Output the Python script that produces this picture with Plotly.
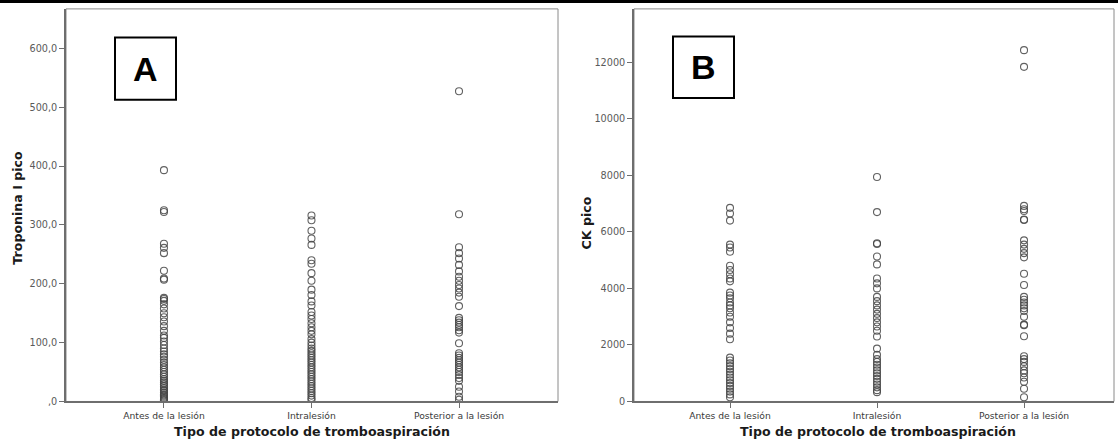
import plotly.graph_objects as go

# Categories on the x axis of both panels
categorias = ["Antes de la lesión", "Intralesión", "Posterior a la lesión"]

# Panel A: Troponina I pico per protocol group
trop_antes = [393, 325, 322, 268, 261, 252, 222, 209, 207, 176, 174, 171, 165, 158, 150,
              143, 136, 128, 120, 112, 108, 102, 96, 90, 85, 80, 76, 71, 66, 62, 58, 54,
              50, 46, 42, 38, 35, 32, 29, 26, 23, 20, 18, 15, 12, 10, 8, 6, 4, 2]
trop_intra = [316, 308, 290, 277, 266, 240, 234, 218, 205, 190, 181, 170, 163, 152, 146,
              140, 133, 126, 120, 114, 106, 100, 95, 90, 86, 82, 78, 74, 70, 66, 62, 58,
              54, 50, 46, 42, 38, 34, 30, 26, 22, 18, 14, 10, 6, 3]
trop_post = [527, 318, 262, 252, 243, 232, 221, 212, 205, 198, 192, 185, 178, 162, 142,
             138, 134, 130, 126, 121, 117, 99, 82, 78, 74, 70, 66, 62, 58, 54, 50, 45,
             40, 35, 25, 17, 8, 3]

# Panel B: CK pico per protocol group
ck_antes = [6850, 6650, 6400, 5550, 5450, 5300, 4800, 4650, 4500, 4350, 4250, 3850,
            3750, 3650, 3500, 3400, 3300, 3150, 3000, 2800, 2600, 2400, 2200, 1550,
            1450, 1350, 1250, 1150, 1050, 950, 850, 750, 650, 550, 450, 350, 250, 150]
ck_intra = [7940, 6700, 5600, 5570, 5130, 4850, 4350, 4180, 4000, 3700, 3550, 3400,
            3250, 3100, 2950, 2800, 2650, 2500, 2300, 1870, 1650, 1500, 1400, 1300,
            1200, 1100, 1000, 900, 800, 700, 600, 500, 400, 330]
ck_post = [12430, 11840, 6920, 6800, 6740, 6440, 6420, 5700, 5550, 5400, 5250, 5100,
           4520, 4120, 3700, 3600, 3500, 3400, 3300, 3200, 3000, 2720, 2700, 2310,
           1600, 1500, 1400, 1250, 1100, 1000, 850, 700, 450, 150]

trop_ticks = [0, 100, 200, 300, 400, 500, 600]
ck_ticks = [0, 2000, 4000, 6000, 8000, 10000, 12000]

eje_x_titulo = "Tipo de protocolo de tromboaspiración"
trop_titulo = "Troponina I pico"
ck_titulo = "CK pico"


def etiqueta_coma(v):
    s = f"{v:.1f}".replace(".", ",")
    return s[1:] if s.startswith("0,") else s


W, H = 1118, 448


def px_x(p):
    return p / W


def px_y(p):
    return 1 - p / H


fig = go.Figure()

marker = dict(symbol="circle-open", size=7, color="rgba(70,70,70,0.85)",
              line=dict(width=1.1, color="rgba(70,70,70,0.85)"))

for xa, ya, groups in [("x", "y", [trop_antes, trop_intra, trop_post]),
                       ("x2", "y2", [ck_antes, ck_intra, ck_post])]:
    for cat, vals in zip(categorias, groups):
        fig.add_trace(go.Scatter(x=[cat] * len(vals), y=vals, mode="markers",
                                 marker=marker, xaxis=xa, yaxis=ya,
                                 showlegend=False, hoverinfo="y"))

top_px, bot_px = 9, 406
left_dom = [px_x(66), px_x(558)]
right_dom = [px_x(634), px_x(1114)]
ydom = [px_y(bot_px), px_y(top_px)]

axis_common = dict(showgrid=False, zeroline=False, showline=True, linewidth=1.6,
                   linecolor="#6e6e6e", ticks="outside", ticklen=5, tickwidth=1,
                   tickcolor="#6e6e6e")
tick_font = dict(family="DejaVu Sans", size=9.7, color="#5a5a5a")
cat_font = dict(family="DejaVu Sans", size=9.2, color="#3a3a3a")

fig.update_layout(
    width=W, height=H, margin=dict(l=0, r=0, t=0, b=0),
    paper_bgcolor="white", plot_bgcolor="white",
    xaxis=dict(domain=left_dom, type="category", categoryorder="array",
               categoryarray=categorias, range=[-0.664, 2.671], anchor="y",
               tickfont=cat_font, **axis_common),
    yaxis=dict(domain=ydom, range=[0, 667], anchor="x", tickvals=trop_ticks,
               ticktext=[etiqueta_coma(v) for v in trop_ticks], tickfont=tick_font,
               **axis_common),
    xaxis2=dict(domain=right_dom, type="category", categoryorder="array",
                categoryarray=categorias, range=[-0.653, 2.612], anchor="y2",
                tickfont=cat_font, **axis_common),
    yaxis2=dict(domain=ydom, range=[0, 13890], anchor="x2", tickvals=ck_ticks,
                ticktext=[str(v) for v in ck_ticks], tickfont=tick_font,
                **axis_common),
)

shapes = []
# thin frame on top/right of each plot area
for x0, x1 in [(66, 558), (634, 1114)]:
    shapes.append(dict(type="rect", xref="paper", yref="paper",
                       x0=px_x(x0), x1=px_x(x1), y0=px_y(bot_px), y1=px_y(top_px),
                       line=dict(color="#8a8a8a", width=1), layer="below"))
# panel label boxes
for (x0, x1, y0, y1) in [(115, 176, 38, 101), (673, 734, 37, 99)]:
    shapes.append(dict(type="rect", xref="paper", yref="paper",
                       x0=px_x(x0), x1=px_x(x1), y0=px_y(y1), y1=px_y(y0),
                       line=dict(color="black", width=2), fillcolor="white"))
# black rule along the top edge
shapes.append(dict(type="rect", xref="paper", yref="paper", x0=0, x1=1,
                   y0=px_y(3), y1=1, line=dict(width=0), fillcolor="black"))
fig.update_layout(shapes=shapes)

title_font = dict(family="DejaVu Sans", size=12.6, color="#1a1a1a")
ann = []
for cx, letra, cy in [(145.5, "A", 69.5), (703.5, "B", 68)]:
    ann.append(dict(text=f"<b>{letra}</b>", x=px_x(cx), y=px_y(cy), xref="paper",
                    yref="paper", showarrow=False, xanchor="center", yanchor="middle",
                    font=dict(family="Liberation Sans", size=34, color="black")))
for cx in [312, 878]:
    ann.append(dict(text=f"<b>{eje_x_titulo}</b>", x=px_x(cx), y=px_y(436),
                    xref="paper", yref="paper", showarrow=False, xanchor="center",
                    yanchor="middle", font=title_font))
for cx, t, cy in [(18, trop_titulo, 210), (586, ck_titulo, 226)]:
    ann.append(dict(text=f"<b>{t}</b>", x=px_x(cx), y=px_y(cy), xref="paper",
                    yref="paper", showarrow=False, textangle=-90, xanchor="center",
                    yanchor="middle", font=title_font))
fig.update_layout(annotations=ann)

fig.write_html("out.html")
